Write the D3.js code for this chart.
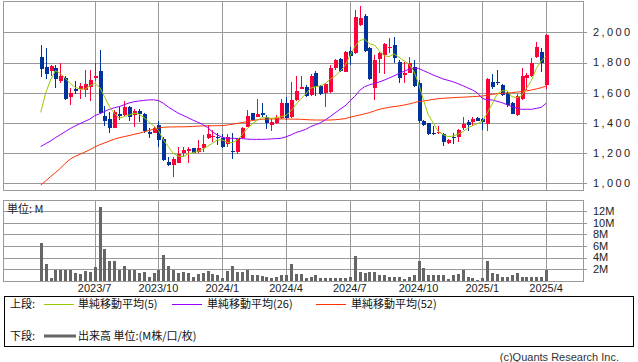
<!DOCTYPE html>
<html><head><meta charset="utf-8">
<script src="https://cdn.jsdelivr.net/npm/d3@7/dist/d3.min.js"></script>
<style>body{margin:0;background:#fff;}svg{display:block;}</style>
</head><body>
<svg id="c" width="638" height="362"></svg>
<script>
// ---- data (weekly, first week starting 2023-04-17) ----
const firstWeek = "2023-04-17";
const opens = [1834,1770,1746,1762,1680,1700,1572,1627,1622,1618,
  1636,1697,1744,1446,1426,1368,1459,1452,1508,1452,
  1479,1459,1340,1335,1384,1291,1141,1123,1137,1203,
  1214,1232,1210,1232,1298,1304,1309,1298,1262,1214,
  1205,1298,1375,1463,1441,1468,1441,1386,1397,1430,
  1534,1437,1552,1627,1636,1585,1728,1644,1596,1603,
  1766,1821,1740,1876,1861,2049,2110,1894,1633,1823,
  1850,1898,1916,1806,1717,1733,1773,1662,1415,1397,
  1335,1335,1324,1265,1309,1309,1364,1404,1404,1435,
  1424,1393,1669,1671,1651,1596,1530,1452,1556,1700,
  1711,1834,1872,1651];
const highs = [1916,1894,1784,1784,1799,1711,1629,1678,1662,1750,
  1750,1795,1883,1512,1474,1486,1508,1545,1512,1492,
  1490,1463,1364,1380,1413,1309,1176,1176,1243,1243,
  1243,1236,1287,1320,1386,1353,1335,1324,1324,1331,
  1298,1375,1486,1468,1558,1530,1452,1430,1452,1556,
  1569,1673,1708,1711,1651,1724,1744,1651,1662,1784,
  1821,1828,1876,1905,2148,2174,2119,1905,1850,1872,
  1927,1965,1967,1817,1806,1834,1817,1684,1419,1402,
  1382,1380,1331,1291,1335,1357,1437,1419,1437,1441,
  1435,1700,1724,1750,1656,1614,1541,1589,1762,1733,
  1828,1938,1894,1987];
const lows = [1706,1691,1711,1634,1662,1554,1519,1589,1556,1574,
  1547,1678,1459,1380,1335,1364,1419,1448,1415,1375,
  1408,1331,1298,1331,1238,1150,1117,1044,1132,1172,
  1137,1198,1198,1210,1291,1276,1254,1232,1243,1161,
  1194,1291,1371,1415,1441,1437,1357,1349,1393,1424,
  1419,1430,1547,1622,1574,1580,1580,1585,1508,1600,
  1750,1735,1735,1784,1856,2042,1872,1684,1552,1728,
  1724,1861,1795,1662,1662,1728,1640,1402,1380,1320,
  1320,1327,1249,1260,1260,1276,1353,1346,1380,1413,
  1353,1346,1625,1651,1580,1508,1457,1448,1552,1618,
  1706,1828,1740,1622];
const closes = [1757,1724,1777,1689,1711,1558,1598,1614,1647,1658,
  1684,1709,1463,1415,1364,1472,1448,1508,1441,1479,
  1457,1346,1329,1368,1287,1154,1123,1161,1194,1221,
  1227,1203,1236,1260,1324,1315,1298,1243,1309,1207,
  1291,1364,1446,1419,1459,1452,1402,1408,1430,1530,
  1430,1552,1614,1636,1580,1711,1640,1589,1656,1762,
  1817,1744,1867,1843,2099,2093,1876,1689,1817,1861,
  1923,1905,1828,1700,1728,1799,1647,1415,1386,1327,
  1324,1342,1276,1287,1302,1353,1393,1386,1424,1415,
  1404,1691,1640,1662,1585,1519,1459,1578,1711,1717,
  1795,1905,1795,1982];
const volumes = [6.5,2.8,0.5,1.8,1.9,1.8,1.8,1.3,1.1,1.6,
  1.5,2.3,12.7,5.4,3.4,3.4,1.9,2.5,1.8,1.8,
  1.4,1.5,0.7,1.3,1.9,4.5,2.5,1.9,1.4,1.5,
  1.4,0.6,1.2,1.3,1.6,1.2,0.9,0.5,1.6,2.5,
  1.5,1.5,1.8,0.9,0.9,0.8,0.6,0.5,0.7,0.9,
  0.9,2.8,1.2,1.1,0.5,0.7,0.9,0.5,0.5,0.5,
  0.5,0.5,0.5,0.7,4.3,1.5,1.3,1.5,1.5,0.9,
  0.9,0.7,0.7,0.6,0.3,0.6,0.9,3.4,2.2,1.0,
  1.0,0.9,1.0,0.3,0.9,1.2,1.9,0.7,0.5,0.05,
  0.5,3.4,1.4,1.2,0.6,0.7,0.9,1.3,0.7,0.6,
  0.7,0.7,0.7,1.8];
const ma5 = [1470,1596,1684,1746,1728,1695,1662,1636,1624,1622,
  1645,1662,1636,1574,1508,1464,1432,1441,1452,1464,
  1459,1437,1408,1380,1350,1287,1243,1199,1180,1176,
  1194,1203,1210,1225,1245,1265,1287,1287,1272,1270,
  1285,1320,1360,1390,1415,1432,1437,1430,1435,1441,
  1450,1480,1520,1560,1590,1630,1640,1645,1660,1690,
  1710,1742,1778,1843,1905,1945,1954,1925,1916,1878,
  1845,1839,1857,1835,1812,1792,1745,1662,1552,1452,
  1400,1345,1322,1310,1312,1325,1340,1365,1382,1395,
  1410,1464,1525,1590,1612,1615,1574,1567,1580,1630,
  1680,1760,1810,1840];
const ma26 = [1243,1262,1280,1302,1322,1342,1362,1380,1395,1410,
  1425,1448,1460,1475,1490,1500,1508,1520,1532,1540,
  1545,1549,1552,1553,1548,1530,1505,1485,1465,1450,
  1435,1419,1405,1390,1370,1340,1320,1305,1298,1298,
  1297,1296,1293,1291,1291,1291,1292,1294,1296,1298,
  1308,1320,1336,1346,1357,1375,1388,1400,1420,1442,
  1466,1490,1512,1545,1575,1615,1640,1652,1662,1671,
  1683,1697,1711,1728,1741,1755,1761,1761,1746,1732,
  1717,1704,1691,1682,1673,1660,1647,1632,1618,1598,
  1562,1552,1552,1543,1534,1521,1508,1499,1490,1490,
  1490,1496,1503,1530];
const ma52 = [988,1015,1044,1071,1099,1132,1160,1178,1192,1207,
  1222,1240,1255,1267,1280,1292,1302,1309,1316,1324,
  1331,1340,1349,1358,1366,1371,1373,1373,1374,1374,
  1375,1377,1378,1380,1381,1381,1382,1382,1386,1391,
  1396,1402,1408,1415,1420,1424,1425,1426,1426,1426,
  1426,1425,1425,1424,1422,1420,1419,1419,1419,1419,
  1421,1424,1428,1437,1445,1452,1460,1468,1479,1490,
  1497,1503,1508,1512,1518,1525,1533,1541,1545,1550,
  1556,1560,1563,1565,1567,1569,1570,1572,1574,1576,
  1578,1584,1589,1593,1596,1598,1600,1604,1607,1612,
  1618,1625,1633,1644];
const tickLabels = ["2023/7","2023/10","2024/1","2024/4","2024/7","2024/10","2025/1","2025/4"];
const priceTicks = [1000,1200,1400,1600,1800,2000];
const volTicks = [2,4,6,8,10,12];

// ---- layout ----
const L = 3, R = 583, mainTop = 1, mainBot = 190, volTop = 200, volBot = 281;
const FONT = "'Liberation Sans', Arial, sans-serif";
const JFONT = "'Noto Sans CJK JP', 'Noto Sans', sans-serif";
const C_UP = "#ff0038", C_DN = "#003399", C_GRID = "#999999";
const C_MA5 = "#99cc00", C_MA26 = "#9900ff", C_MA52 = "#ff3300";

const n = opens.length;
const start = d3.timeParse("%Y-%m-%d")(firstWeek);
const dates = d3.range(n).map(i => d3.timeMonday.offset(start, i));
const rows = d3.range(n).map(i => ({i, date: dates[i], o: opens[i], h: highs[i], l: lows[i], c: closes[i], v: volumes[i]}));

const x = d3.scalePoint().domain(d3.range(n)).range([40.7, 546.1]);
const y = d3.scaleLinear().domain([1000, 2000]).range([183.3, 32.3]);
const yv = d3.scaleLinear().domain([0, 14]).range([280.7, 199.5]);
const px = v => Math.round(v) + 0.5;

const svg = d3.select("#c");

// tick index for each label: first week on/after the 1st of the month
const tickIdx = tickLabels.map(t => {
  const [yy, mm] = t.split("/").map(Number);
  const d0 = new Date(yy, mm - 1, 1);
  return dates.findIndex(d => d >= d0);
});

function panel(top, bot) {
  const g = svg.append("g");
  g.append("rect").attr("x", L + 0.5).attr("y", top + 0.5).attr("width", R - L).attr("height", bot - top)
    .attr("fill", "#fff").attr("stroke", C_GRID).attr("stroke-width", 1);
  tickIdx.forEach(k => {
    g.append("line").attr("x1", px(x(k))).attr("x2", px(x(k))).attr("y1", top).attr("y2", bot)
      .attr("stroke", C_GRID).attr("stroke-width", 1);
  });
  return g;
}

// main panel
const gm = panel(mainTop, mainBot);
priceTicks.forEach(p => {
  gm.append("line").attr("x1", L).attr("x2", R + 4).attr("y1", px(y(p))).attr("y2", px(y(p)))
    .attr("stroke", C_GRID).attr("stroke-width", 1);
  gm.append("text").attr("x", 593).attr("y", y(p)).attr("dy", "0.36em")
    .attr("font-family", FONT).attr("font-size", 11).attr("fill", "#222")
    .attr("textLength", 37).attr("lengthAdjust", "spacing")
    .text(d3.format(",")(p));
});

// volume panel
const gv = panel(volTop, volBot);
volTicks.forEach(v => {
  gv.append("line").attr("x1", L).attr("x2", R + 4).attr("y1", px(yv(v))).attr("y2", px(yv(v)))
    .attr("stroke", C_GRID).attr("stroke-width", 1);
  gv.append("text").attr("x", 593).attr("y", yv(v)).attr("dy", "0.36em")
    .attr("font-family", FONT).attr("font-size", 11).attr("fill", "#222")
    .text(v + "M");
});
gv.append("text").attr("x", 7).attr("y", 209).attr("dy", "0.36em")
  .attr("font-family", JFONT).attr("font-size", 11).attr("fill", "#222").text("単位: M");

// x labels
tickIdx.forEach((k, j) => {
  svg.append("text").attr("x", x(k)).attr("y", 292).attr("text-anchor", "middle")
    .attr("font-family", FONT).attr("font-size", 11).attr("fill", "#222").text(tickLabels[j]);
});

// volume bars
gv.selectAll("rect.vol").data(rows).join("rect").attr("class", "vol")
  .attr("x", d => Math.round(x(d.i)) - 1).attr("width", 3.4)
  .attr("y", d => yv(d.v)).attr("height", d => yv(0) - yv(d.v))
  .attr("fill", "#666666").attr("shape-rendering", "crispEdges");

// candles
const gc = svg.append("g").attr("shape-rendering", "crispEdges");
gc.selectAll("line.wick").data(rows).join("line").attr("class", "wick")
  .attr("x1", d => px(x(d.i))).attr("x2", d => px(x(d.i)))
  .attr("y1", d => y(d.h)).attr("y2", d => y(d.l))
  .attr("stroke", d => d.c >= d.o ? C_UP : C_DN).attr("stroke-width", 1);
gc.selectAll("rect.body").data(rows).join("rect").attr("class", "body")
  .attr("x", d => Math.round(x(d.i)) - 1.5).attr("width", 4)
  .attr("y", d => y(Math.max(d.o, d.c)))
  .attr("height", d => Math.max(1.5, Math.abs(y(d.o) - y(d.c))))
  .attr("fill", d => d.c >= d.o ? C_UP : C_DN);

// moving averages
const line = arr => d3.line().x((d, i) => x(i)).y(d => y(d))(arr);
[[ma52, C_MA52], [ma26, C_MA26], [ma5, C_MA5]].forEach(([arr, col]) => {
  svg.append("path").attr("d", line(arr)).attr("fill", "none").attr("stroke", col).attr("stroke-width", 1);
});

// legend
const lg = svg.append("g");
lg.append("rect").attr("x", 4.5).attr("y", 296.5).attr("width", 629).attr("height", 50)
  .attr("fill", "#fff").attr("stroke", "#000").attr("stroke-width", 1);
const ly1 = 304, ly2 = 336;
const t = (xx, yy, s, f) => lg.append("text").attr("x", xx).attr("y", yy).attr("dy", "0.36em")
  .attr("font-family", f || JFONT).attr("font-size", 11).attr("fill", "#111").text(s);
t(10, ly1, "上段:");
[[44, 74, C_MA5, 78, "単純移動平均(5)"], [172, 202, C_MA26, 207, "単純移動平均(26)"], [316, 346, C_MA52, 351, "単純移動平均(52)"]]
  .forEach(([a, b, col, tx, s]) => {
    lg.append("line").attr("x1", a).attr("x2", b).attr("y1", ly1 + 0.5).attr("y2", ly1 + 0.5).attr("stroke", col).attr("stroke-width", 1);
    t(tx, ly1, s);
  });
t(10, ly2, "下段:");
lg.append("line").attr("x1", 44).attr("x2", 76).attr("y1", ly2).attr("y2", ly2).attr("stroke", "#666").attr("stroke-width", 3);
t(78, ly2, "出来高 単位:(M株/口/枚)");

svg.append("text").attr("x", 619).attr("y", 357).attr("dy", "0.36em").attr("text-anchor", "end")
  .attr("font-family", FONT).attr("font-size", 11).attr("fill", "#333").text("(c)Quants Research Inc.");
</script>
</body></html>
